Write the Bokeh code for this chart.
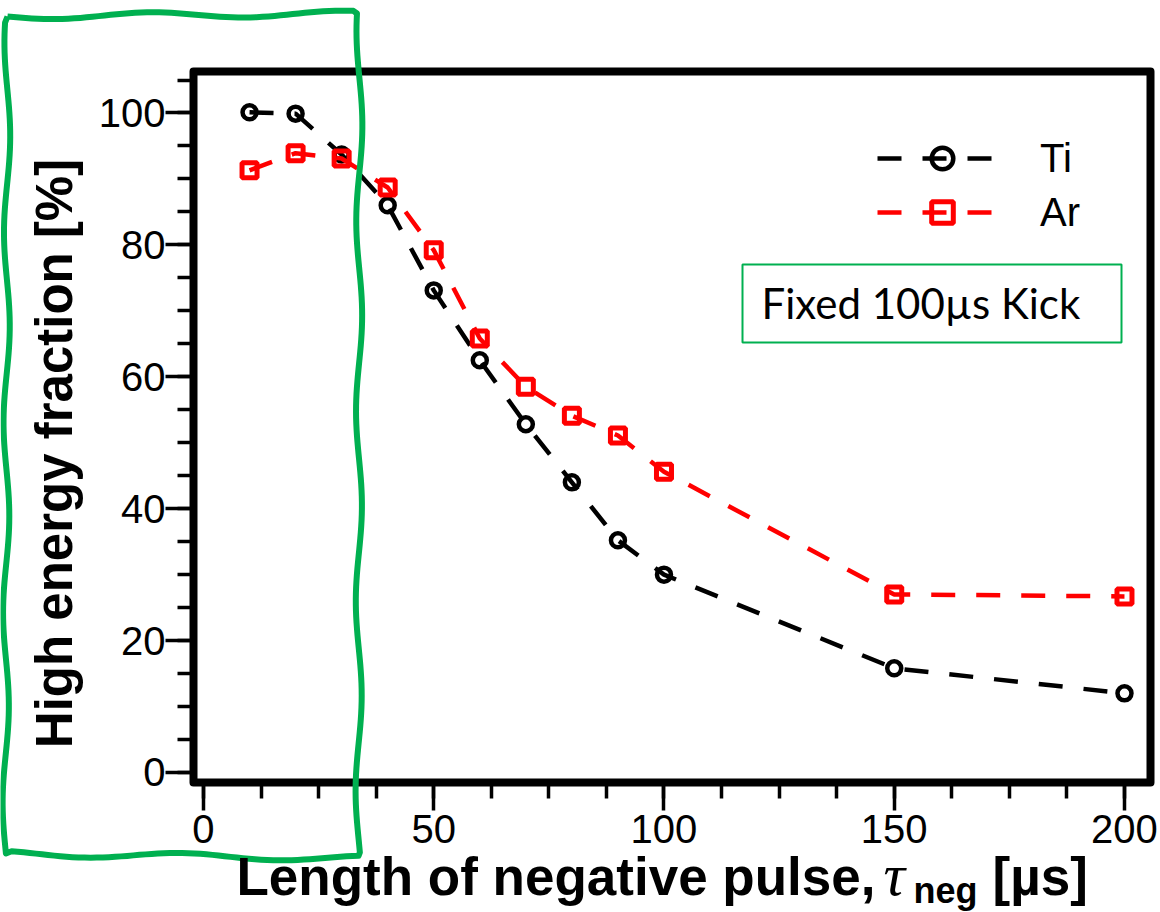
import math
from bokeh.plotting import figure
from bokeh.models import (FixedTicker, Legend, LegendItem, Label, BoxAnnotation, Range1d)
from bokeh.embed import file_html
from bokeh.resources import INLINE

# ---------------- data ----------------
pulse_us = [10, 20, 30, 40, 50, 60, 70, 80, 90, 100, 150, 200]
ti_frac = [100.1, 99.9, 93.7, 86.0, 73.1, 62.5, 52.8, 44.0, 35.2, 30.0, 15.8, 12.0]
ar_frac = [91.3, 93.9, 93.1, 88.7, 79.2, 65.8, 58.5, 54.1, 51.1, 45.6, 27.0, 26.7]
x_major = [0, 50, 100, 150, 200]
x_minor = [i * 12.5 for i in range(17)]
y_major = [0, 20, 40, 60, 80, 100]
y_minor = [i * 5 for i in range(22)]

# ---------------- geometry (canvas px) ----------------
W, H = 1160, 912
FL, FR, FT, FB = 193, 1150, 71, 782
X0, X1 = -2.17, 205.65
Y0, Y1 = -1.52, 106.29


def dx(px):
    return X0 + (px - FL) * (X1 - X0) / (FR - FL)


def dy(py):
    return Y0 + (FB - py) * (Y1 - Y0) / (FB - FT)


p = figure(width=W, height=H, output_backend="svg", toolbar_location=None,
           x_range=Range1d(X0, X1), y_range=Range1d(Y0, Y1),
           min_border_left=FL, min_border_right=W - FR,
           min_border_top=FT, min_border_bottom=H - FB)
p.grid.visible = False
p.background_fill_color = "white"
p.border_fill_color = "white"
p.outline_line_color = "black"
p.outline_line_width = 8
p.outline_line_join = "round"

for ax, maj, mnr in ((p.xaxis[0], x_major, x_minor), (p.yaxis[0], y_major, y_minor)):
    ax.ticker = FixedTicker(ticks=maj, minor_ticks=mnr)
    ax.axis_line_color = None
    ax.major_tick_in = 0
    ax.minor_tick_in = 0
    ax.major_tick_out = 28
    ax.minor_tick_out = 16
    ax.major_tick_line_width = 3.5
    ax.minor_tick_line_width = 3.5
    ax.major_tick_line_color = "black"
    ax.minor_tick_line_color = "black"
    ax.major_label_text_font = "Liberation Sans"
    ax.major_label_text_font_size = "40px"
    ax.major_label_text_color = "black"
p.yaxis[0].major_label_standoff = 0
p.xaxis[0].major_label_standoff = 4

# ---------------- series ----------------
ti_line = p.line(pulse_us, ti_frac, line_color="black", line_width=4.5, line_dash="24 21")
ti_pts = p.scatter(pulse_us, ti_frac, marker="circle", size=14, line_color="black",
                   line_width=4.5, fill_alpha=0)
ar_line = p.line(pulse_us, ar_frac, line_color="#ff0000", line_width=4.5, line_dash="24 21")
ar_pts = p.scatter(pulse_us, ar_frac, marker="square", size=15, line_color="#ff0000",
                   line_width=5, fill_alpha=0)

legend = Legend(items=[LegendItem(label="Ti", renderers=[ti_line, ti_pts]),
                       LegendItem(label="Ar", renderers=[ar_line, ar_pts])],
                location=(684, 543),
                glyph_width=130, glyph_height=54, label_height=54, spacing=0,
                padding=0, margin=0, label_standoff=33,
                border_line_color=None, background_fill_alpha=0,
                label_text_font="Liberation Sans", label_text_font_size="40px",
                label_text_color="black")
p.add_layout(legend, "center")

# ---------------- annotation box ----------------
p.add_layout(BoxAnnotation(left=dx(742), right=dx(1121), top=dy(264), bottom=dy(342),
                           fill_alpha=0, line_color="#00B050", line_alpha=1,
                           line_width=2, level="overlay"))
p.add_layout(Label(x=dx(761), y=dy(302), text="Fixed 100µs Kick",
                   text_font="Lato", text_font_size="42px", text_color="black",
                   text_baseline="alphabetic", text_align="left"))

# ---------------- overlay: axis titles and hand-drawn frame ----------------
q = figure(width=W, height=H, output_backend="svg", toolbar_location=None,
           x_range=Range1d(0, W), y_range=Range1d(H, 0),
           x_axis_location=None, y_axis_location=None, min_border=0,
           styles={"position": "absolute", "top": "0px", "left": "0px"})
q.grid.visible = False
q.outline_line_color = None
q.background_fill_alpha = 0
q.border_fill_alpha = 0

bold = dict(text_font="Liberation Sans", text_font_style="bold", text_color="black",
            text_baseline="alphabetic", text_align="left")
q.add_layout(Label(x=54, y=453, text="High energy fraction [%]", angle=math.pi / 2,
                   text_font_size="51px", **{**bold, "text_align": "center"}))
q.add_layout(Label(x=236, y=876, text="Length of negative pulse,",
                   text_font_size="53px", **bold))
q.add_layout(Label(x=883, y=874, text="τ", text_font="Liberation Serif",
                   text_font_style="italic", text_font_size="60px",
                   text_baseline="alphabetic", text_align="left", text_color="black"))
q.add_layout(Label(x=913, y=890, text="neg", text_font_size="36px", **bold))
q.add_layout(Label(x=992, y=876, text="[µs]", text_font_size="53px", **bold))

corners = [(7, 16), (359, 13), (358, 858), (5, 853)]
xs, ys = [], []
for k in range(4):
    (ax_, ay_), (bx_, by_) = corners[k], corners[(k + 1) % 4]
    length = math.hypot(bx_ - ax_, by_ - ay_)
    n = max(2, int(length / 6))
    nx, ny = -(by_ - ay_) / length, (bx_ - ax_) / length
    for i in range(n):
        t = i / n
        w = 3.0 * math.sin(2 * math.pi * t * length / 190.0 + k)
        xs.append(ax_ + (bx_ - ax_) * t + nx * w)
        ys.append(ay_ + (by_ - ay_) * t + ny * w)
xs.append(xs[0])
ys.append(ys[0])
q.line(xs, ys, line_color="#00B050", line_width=6, line_join="round")

open("out.html", "w").write(file_html([p, q], INLINE))
